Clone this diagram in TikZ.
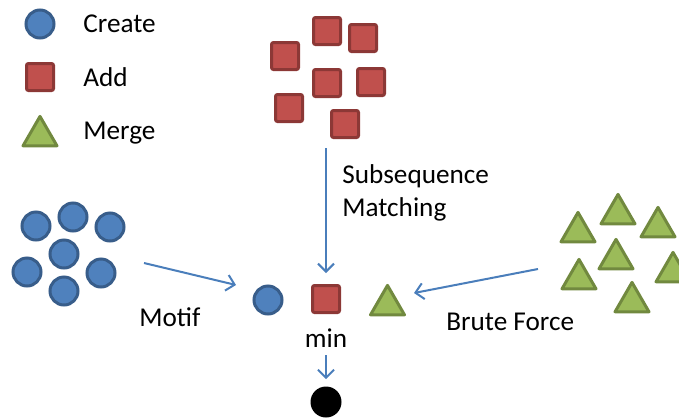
\documentclass[tikz,border=0pt]{standalone}
\usepackage{fontspec}
\setmainfont{Carlito}
\usetikzlibrary{arrows.meta, shapes.geometric}
\definecolor{cblue}{HTML}{4F81BD}
\definecolor{cbluedark}{HTML}{385D8A}
\definecolor{cred}{HTML}{C0504D}
\definecolor{creddark}{HTML}{8C3836}
\definecolor{cgreen}{HTML}{9BBB59}
\definecolor{cgreendark}{HTML}{71893F}
\definecolor{carrow}{HTML}{4A7EBB}
\tikzset{
  every picture/.style={x=0.5pt, y=-0.5pt, font=\fontsize{13.6}{16.5}\selectfont},
  createdot/.style={circle, draw=cbluedark, fill=cblue, line width=1.5pt, minimum size=14pt, inner sep=0pt},
  addbox/.style={rectangle, draw=creddark, fill=cred, line width=1.5pt, rounded corners=1pt, minimum size=13.5pt, inner sep=0pt},
  mergetri/.style={regular polygon, regular polygon sides=3, draw=cgreendark, fill=cgreen, line width=1.5pt, line join=round, minimum size=19.6pt, inner sep=0pt},
  flow/.style={-{Straight Barb[length=4pt, width=8pt]}, draw=carrow, line width=1pt},
  txt/.style={anchor=base west, inner sep=0pt},
}

\begin{document}
\begin{tikzpicture}
  \useasboundingbox (0,0) rectangle (679,418);
  % legend
  \node[createdot] (legc) at (40,24) {};
  \node[addbox] (legs) at (40,77) {};
  \node[mergetri] (legt) at (40,136) {};
  \node[txt] (legctxt) at (83,32) {Create};
  \node[txt] (legstxt) at (83,86) {Add};
  \node[txt] (legttxt) at (83,139) {Merge};
  % clusters
  \foreach \x/\y [count=\i] in {36/226, 73/217, 110/227, 64/254, 27/272, 101/273, 64/291}
    \node[createdot] (c\i) at (\x,\y) {};
  \foreach \x/\y [count=\i] in {327/31, 363/38, 285/56, 327/83, 371/82, 289/108, 345/124}
    \node[addbox] (s\i) at (\x,\y) {};
  \foreach \x/\y [count=\i] in {578/232, 618/214, 658/227, 616/259, 579/279, 673/272, 632/302}
    \node[mergetri] (t\i) at (\x,\y) {};
  % result
  \node[createdot] (mincirc) at (268,300) {};
  \node[addbox] (minsq) at (326,299) {};
  \node[mergetri] (mintri) at (387.5,305) {};
  \node[anchor=base, inner sep=0pt] (minlbl) at (326,347) {min};
  \node[circle, fill=black, minimum size=15.5pt, inner sep=0pt] (best) at (326,402) {};
  % arrows
  \coordinate (subtail) at (326,148);
  \coordinate (motiftail) at (144,263);
  \coordinate (motifhead) at (236,285);
  \coordinate (brutetail) at (538,269);
  \coordinate (brutehead) at (414,293);
  \draw[flow, shorten >=5.5pt] (subtail) -- (minsq);
  \draw[flow] (motiftail) -- (motifhead);
  \draw[flow] (brutetail) -- (brutehead);
  \draw[flow, shorten <=4pt, shorten >=3.5pt] (minlbl) -- (best);
  \node[txt] (subtxt) at (342,183) {Subsequence};
  \node[txt] (mattxt) at (342,216) {Matching};
  \node[txt] (motiftxt) at (139,326) {Motif};
  \node[txt] (brutetxt) at (446,330) {Brute Force};
\end{tikzpicture}
\end{document}
